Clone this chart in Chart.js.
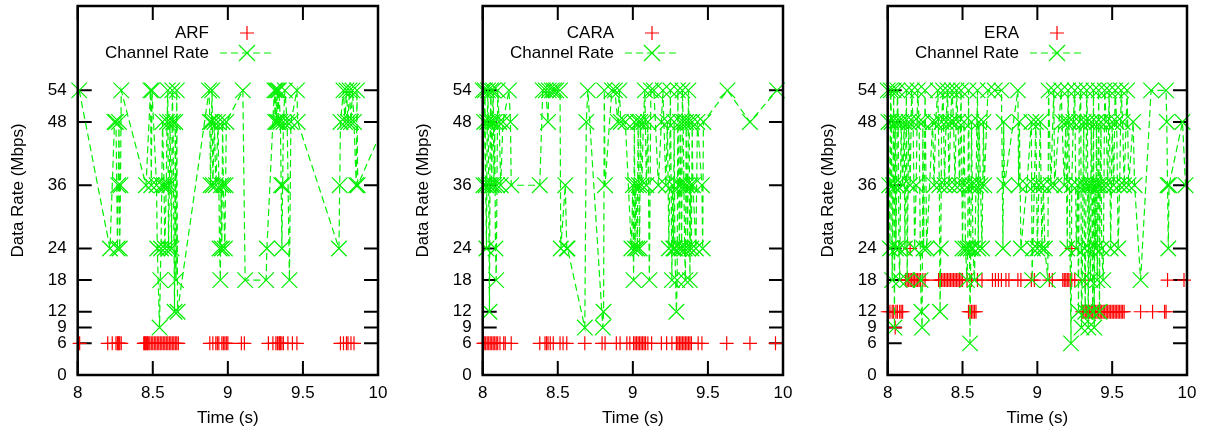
<!DOCTYPE html>
<html>
<head>
<meta charset="utf-8">
<script src="https://cdn.jsdelivr.net/npm/chart.js"></script>
<style>
  body { margin: 0; background: #fff; }
  canvas { position: absolute; top: 0; }
</style>
</head>
<body>
<canvas id="arf" width="405" height="432" style="left:0"></canvas>
<canvas id="cara" width="405" height="432" style="left:405px"></canvas>
<canvas id="era" width="404" height="432" style="left:810px"></canvas>
<script>
// axis ticks shared by the three panels
const xTicks = [8, 8.5, 9, 9.5, 10];
const yTicks = [0, 6, 9, 12, 18, 24, 36, 48, 54];

// [time (s), rate (Mbps)]
const arfRates = [
  [8.013, 6], [8.20, 6], [8.23, 6], [8.255, 6], [8.265, 6], [8.27, 6], [8.275, 6], [8.28, 6], [8.29, 6],
  [8.44, 6], [8.445, 6], [8.45, 6], [8.455, 6], [8.46, 6], [8.465, 6], [8.47, 6], [8.48, 6], [8.49, 6],
  [8.50, 6], [8.51, 6], [8.52, 6], [8.53, 6], [8.54, 6], [8.55, 6], [8.56, 6], [8.57, 6], [8.58, 6],
  [8.59, 6], [8.60, 6], [8.61, 6], [8.62, 6], [8.63, 6], [8.64, 6], [8.65, 6], [8.66, 6], [8.67, 6],
  [8.88, 6], [8.90, 6], [8.92, 6], [8.93, 6], [8.94, 6], [8.96, 6], [8.97, 6], [8.98, 6], [8.99, 6], [9.00, 6],
  [9.09, 6], [9.11, 6],
  [9.27, 6], [9.30, 6], [9.32, 6], [9.33, 6], [9.34, 6], [9.345, 6], [9.35, 6], [9.36, 6], [9.37, 6],
  [9.40, 6], [9.43, 6], [9.46, 6],
  [9.75, 6], [9.77, 6], [9.79, 6], [9.80, 6], [9.82, 6], [9.84, 6]
];
const arfChannel = [
  [8.01, 54], [8.215, 24], [8.245, 48], [8.255, 48], [8.265, 24], [8.27, 36], [8.275, 48], [8.28, 24],
  [8.285, 36], [8.29, 54],
  [8.455, 36], [8.485, 54], [8.49, 36], [8.495, 54], [8.525, 36], [8.53, 24], [8.545, 9], [8.55, 18],
  [8.555, 24], [8.56, 36], [8.565, 48], [8.575, 36], [8.58, 24], [8.59, 36], [8.595, 48], [8.60, 54],
  [8.605, 24], [8.61, 36], [8.615, 48], [8.625, 24], [8.63, 54], [8.635, 48], [8.645, 12], [8.65, 48],
  [8.655, 18], [8.66, 54], [8.665, 12],
  [8.875, 54], [8.88, 48], [8.885, 36], [8.89, 48], [8.895, 54], [8.90, 36], [8.91, 48], [8.92, 36],
  [8.935, 48], [8.945, 24], [8.95, 18], [8.955, 36], [8.96, 24], [8.965, 48], [8.97, 36], [8.98, 24],
  [8.985, 36], [8.99, 48],
  [9.10, 54], [9.115, 18], [9.255, 18], [9.26, 24], [9.31, 54], [9.315, 48], [9.32, 54], [9.325, 48],
  [9.33, 54], [9.335, 48], [9.34, 54], [9.35, 48], [9.355, 36], [9.36, 24], [9.365, 36], [9.37, 48],
  [9.38, 54], [9.395, 48], [9.41, 18], [9.42, 48], [9.46, 54], [9.465, 48],
  [9.74, 24], [9.745, 36], [9.75, 48], [9.77, 54], [9.78, 48], [9.79, 54], [9.80, 48], [9.81, 54],
  [9.82, 48], [9.83, 54], [9.84, 48], [9.855, 36], [9.86, 54], [9.865, 36], [10.05, 48]
];

const caraRates = [
  [8.005, 6], [8.01, 6], [8.02, 6], [8.03, 6], [8.04, 6], [8.05, 6], [8.06, 6], [8.07, 6], [8.08, 6],
  [8.09, 6], [8.10, 6], [8.115, 6], [8.14, 6], [8.15, 6], [8.19, 6],
  [8.38, 6], [8.415, 6], [8.425, 6], [8.435, 6], [8.45, 6], [8.47, 6], [8.515, 6], [8.535, 6], [8.56, 6],
  [8.68, 6], [8.795, 6], [8.815, 6],
  [8.89, 6], [8.915, 6], [8.96, 6], [8.98, 6], [9.005, 6], [9.015, 6], [9.025, 6], [9.035, 6], [9.045, 6],
  [9.055, 6], [9.065, 6], [9.075, 6], [9.085, 6], [9.10, 6], [9.125, 6],
  [9.19, 6], [9.225, 6], [9.26, 6], [9.29, 6], [9.30, 6], [9.31, 6], [9.32, 6], [9.33, 6], [9.34, 6],
  [9.35, 6], [9.36, 6], [9.37, 6], [9.38, 6], [9.39, 6], [9.435, 6], [9.46, 6],
  [9.625, 6], [9.78, 6], [9.95, 6]
];
const caraChannel = [
  [8.00, 54], [8.005, 36], [8.01, 48], [8.015, 54], [8.02, 36], [8.025, 24], [8.03, 48], [8.035, 54],
  [8.04, 36], [8.045, 12], [8.05, 48], [8.055, 54], [8.06, 36], [8.065, 48], [8.07, 54], [8.075, 36],
  [8.08, 48], [8.085, 24], [8.09, 18], [8.095, 36], [8.10, 54], [8.11, 48], [8.12, 36], [8.135, 48],
  [8.175, 54], [8.185, 48], [8.19, 36], [8.38, 36],
  [8.40, 54], [8.42, 54], [8.435, 48], [8.44, 54], [8.46, 54], [8.475, 54], [8.49, 54], [8.515, 54],
  [8.52, 24], [8.55, 36], [8.56, 24], [8.565, 24], [8.68, 9], [8.69, 48], [8.70, 54], [8.80, 9],
  [8.805, 12], [8.81, 54], [8.815, 36], [8.86, 54], [8.88, 54], [8.90, 48], [8.91, 54], [8.92, 48],
  [8.95, 48], [8.99, 24], [9.00, 36], [9.005, 18], [9.01, 48], [9.015, 24], [9.02, 36], [9.03, 24],
  [9.035, 48], [9.04, 36], [9.045, 24], [9.05, 48], [9.06, 36], [9.07, 48], [9.08, 54], [9.09, 36],
  [9.10, 48], [9.11, 18], [9.12, 54], [9.14, 54], [9.17, 36], [9.19, 48], [9.20, 54], [9.22, 36],
  [9.23, 48], [9.24, 24], [9.25, 54], [9.26, 18], [9.265, 36], [9.27, 24], [9.275, 48], [9.28, 24],
  [9.29, 12], [9.295, 18], [9.30, 54], [9.305, 36], [9.31, 24], [9.315, 48], [9.32, 36], [9.325, 24],
  [9.33, 54], [9.335, 48], [9.34, 36], [9.345, 24], [9.35, 18], [9.355, 48], [9.36, 36], [9.365, 24],
  [9.37, 54], [9.375, 48], [9.38, 18], [9.385, 36], [9.39, 24], [9.395, 48], [9.40, 36], [9.42, 24],
  [9.43, 48], [9.46, 36], [9.465, 24], [9.47, 48], [9.63, 54], [9.78, 48], [9.96, 54]
];

const eraRates = [
  [8.00, 12], [8.015, 12], [8.03, 12], [8.04, 12], [8.055, 12], [8.065, 12], [8.08, 12], [8.09, 12], [8.10, 12],
  [8.05, 9], [8.15, 24], [9.23, 24],
  [8.12, 18], [8.13, 18], [8.14, 18], [8.15, 18], [8.16, 18], [8.17, 18], [8.18, 18], [8.19, 18],
  [8.20, 18], [8.21, 18], [8.22, 18], [8.235, 18], [8.25, 18],
  [8.34, 18], [8.35, 18], [8.36, 18], [8.37, 18], [8.38, 18], [8.39, 18], [8.40, 18], [8.41, 18],
  [8.42, 18], [8.43, 18], [8.44, 18], [8.45, 18], [8.46, 18], [8.47, 18], [8.48, 18], [8.49, 18], [8.50, 18],
  [8.53, 18], [8.56, 18], [8.60, 18], [8.63, 18],
  [8.70, 18], [8.72, 18], [8.74, 18], [8.76, 18], [8.79, 18], [8.81, 18],
  [8.87, 18], [8.89, 18], [8.96, 18], [8.98, 18], [9.08, 18], [9.10, 18],
  [9.17, 18], [9.18, 18], [9.19, 18], [9.20, 18], [9.21, 18], [9.22, 18], [9.23, 18], [9.25, 18], [9.32, 18],
  [9.87, 18], [9.98, 18],
  [8.54, 12], [8.55, 12], [8.56, 12], [8.57, 12], [8.58, 12], [8.59, 12],
  [9.30, 12], [9.31, 12], [9.32, 12], [9.33, 12], [9.34, 12], [9.35, 12], [9.36, 12], [9.37, 12],
  [9.38, 12], [9.39, 12], [9.40, 12], [9.41, 12], [9.42, 12], [9.43, 12], [9.44, 12], [9.45, 12],
  [9.46, 12], [9.47, 12], [9.48, 12], [9.49, 12], [9.50, 12], [9.51, 12], [9.52, 12], [9.53, 12],
  [9.54, 12], [9.55, 12], [9.56, 12], [9.57, 12], [9.58, 12], [9.69, 12], [9.77, 12], [9.85, 12], [9.86, 12]
];
const eraChannel = [
  [8.00, 54], [8.005, 48], [8.01, 36], [8.015, 24], [8.02, 54], [8.025, 48], [8.03, 18], [8.035, 36],
  [8.04, 54], [8.045, 9], [8.05, 48], [8.055, 24], [8.06, 36], [8.065, 54], [8.07, 48], [8.075, 24],
  [8.08, 18], [8.09, 48], [8.10, 36], [8.11, 48], [8.115, 24], [8.125, 54], [8.13, 18], [8.14, 48],
  [8.15, 36], [8.16, 54], [8.17, 48], [8.18, 24], [8.19, 36], [8.20, 54], [8.21, 48], [8.22, 18],
  [8.225, 12], [8.23, 9], [8.235, 48], [8.24, 24], [8.25, 54], [8.26, 24],
  [8.30, 48], [8.31, 36], [8.32, 48], [8.335, 54], [8.345, 36], [8.35, 12], [8.355, 24], [8.36, 48],
  [8.37, 54], [8.38, 36], [8.39, 48], [8.40, 54], [8.41, 36], [8.42, 48], [8.43, 54], [8.44, 48],
  [8.45, 36], [8.46, 54], [8.47, 48], [8.48, 36], [8.49, 54], [8.50, 24], [8.51, 48], [8.515, 36],
  [8.52, 24], [8.53, 18], [8.535, 24], [8.54, 54], [8.545, 36], [8.55, 6], [8.555, 24], [8.56, 48],
  [8.565, 36], [8.57, 24], [8.58, 18], [8.59, 36], [8.60, 54], [8.605, 24], [8.61, 48], [8.62, 36],
  [8.63, 24], [8.64, 48], [8.645, 36], [8.67, 54], [8.715, 54],
  [8.76, 54], [8.77, 24], [8.775, 48], [8.78, 36], [8.87, 54], [8.875, 36], [8.88, 48], [8.89, 24],
  [8.93, 36], [8.96, 48], [8.965, 18], [8.97, 24], [8.98, 36], [8.99, 48], [9.00, 24], [9.01, 36],
  [9.02, 48], [9.03, 24], [9.04, 36], [9.05, 24],
  [9.07, 18], [9.075, 54], [9.09, 36], [9.11, 54], [9.115, 36], [9.16, 54], [9.165, 48], [9.18, 36],
  [9.19, 48], [9.20, 24], [9.205, 54], [9.21, 48], [9.225, 6], [9.23, 36], [9.24, 48], [9.25, 54],
  [9.26, 24], [9.27, 36], [9.275, 12], [9.28, 48], [9.29, 54], [9.295, 9], [9.30, 18], [9.305, 36],
  [9.31, 48], [9.315, 24], [9.32, 12], [9.325, 36], [9.33, 54], [9.335, 48], [9.34, 9], [9.345, 36],
  [9.35, 24], [9.355, 18], [9.36, 48], [9.365, 36], [9.37, 12], [9.375, 54], [9.38, 9], [9.385, 36],
  [9.39, 24], [9.395, 48], [9.40, 18], [9.405, 36], [9.41, 54], [9.415, 12], [9.42, 36], [9.425, 48],
  [9.43, 24], [9.44, 18], [9.445, 36], [9.45, 54], [9.46, 48], [9.47, 36], [9.48, 54], [9.49, 24],
  [9.50, 48], [9.51, 36], [9.52, 54], [9.53, 48], [9.54, 24], [9.55, 36], [9.56, 54], [9.57, 48],
  [9.58, 36], [9.60, 54], [9.61, 36], [9.64, 48], [9.65, 36],
  [9.69, 18], [9.76, 54], [9.86, 54], [9.865, 48], [9.87, 36], [9.875, 24], [9.88, 36], [9.97, 48], [9.99, 36]
];

const RED = "#ff0000";
const GREEN = "#00f000";
const FONT = "'Liberation Sans', Arial, sans-serif";
const TICK = 14;
const DASH = [7, 4];

const toXY = (pairs) => pairs.map(p => ({ x: p[0], y: p[1] }));

// gnuplot style frame: inward ticks on all four sides, border and key
const framePlugin = {
    id: "frame",
    beforeDatasetsDraw(chart) {
        const { ctx, chartArea: a, scales } = chart;
        ctx.save();
        ctx.strokeStyle = "#000";
        ctx.lineWidth = 2;
        ctx.beginPath();
        xTicks.forEach(v => {
            const px = scales.x.getPixelForValue(v);
            ctx.moveTo(px, a.bottom);
            ctx.lineTo(px, a.bottom - TICK);
            ctx.moveTo(px, a.top);
            ctx.lineTo(px, a.top + TICK);
        });
        yTicks.forEach(v => {
            const py = scales.y.getPixelForValue(v);
            ctx.moveTo(a.left, py);
            ctx.lineTo(a.left + TICK, py);
            ctx.moveTo(a.right, py);
            ctx.lineTo(a.right - TICK, py);
        });
        ctx.stroke();
        ctx.restore();
    },
    afterDatasetsDraw(chart, args, opts) {
        const { ctx, chartArea: a } = chart;
        ctx.save();
        ctx.strokeStyle = "#000";
        ctx.lineWidth = 2.5;
        ctx.strokeRect(a.left, a.top, a.right - a.left, a.bottom - a.top);

        // key
        ctx.font = "17px " + FONT;
        ctx.fillStyle = "#000";
        ctx.textAlign = "right";
        ctx.textBaseline = "middle";
        ctx.fillText(opts.label, 209, 33);
        ctx.fillText("Channel Rate", 209, 53);

        ctx.lineWidth = 1.2;
        ctx.strokeStyle = RED;
        ctx.beginPath();
        ctx.moveTo(240, 33);
        ctx.lineTo(254, 33);
        ctx.moveTo(247, 26);
        ctx.lineTo(247, 40);
        ctx.stroke();

        ctx.strokeStyle = GREEN;
        ctx.setLineDash(DASH);
        ctx.beginPath();
        ctx.moveTo(220, 53);
        ctx.lineTo(274, 53);
        ctx.stroke();
        ctx.setLineDash([]);
        ctx.beginPath();
        ctx.moveTo(239, 45);
        ctx.lineTo(255, 61);
        ctx.moveTo(255, 45);
        ctx.lineTo(239, 61);
        ctx.stroke();
        ctx.restore();
    }
};

const makePanel = (id, label, rates, channel, channelClip) => {
    return new Chart(document.getElementById(id), {
        type: "line",
        plugins: [framePlugin],
        data: {
            datasets: [
                {
                    label: "Channel Rate",
                    data: toXY(channel),
                    order: 0,
                    showLine: true,
                    borderColor: GREEN,
                    borderWidth: 1.2,
                    borderDash: DASH,
                    tension: 0,
                    pointStyle: "crossRot",
                    pointRadius: 11,
                    pointBorderWidth: 1.2,
                    pointBorderColor: GREEN,
                    clip: channelClip,
                },
                {
                    label: label,
                    data: toXY(rates),
                    order: 1,
                    showLine: false,
                    borderColor: RED,
                    pointStyle: "cross",
                    pointRadius: 7,
                    pointBorderWidth: 1.2,
                    pointBorderColor: RED,
                    clip: 10,
                },
            ],
        },
        options: {
            responsive: false,
            animation: false,
            layout: { autoPadding: false, padding: { top: 6, right: 27, left: 0, bottom: 0 } },
            plugins: {
                legend: { display: false },
                tooltip: { enabled: false },
                frame: { label: label },
            },
            scales: {
                x: {
                    type: "linear",
                    min: 8,
                    max: 10,
                    afterFit: (s) => {
                        s.height = 57;
                        s.paddingLeft = 0;
                        s.paddingRight = 0;
                    },
                    afterBuildTicks: (s) => { s.ticks = xTicks.map(v => ({ value: v })); },
                    grid: { display: false, drawTicks: false },
                    border: { display: false },
                    ticks: {
                        autoSkip: false,
                        maxRotation: 0,
                        padding: 8,
                        color: "#000",
                        font: { family: FONT, size: 17 },
                        callback: (v) => String(v),
                    },
                    title: {
                        display: true,
                        text: "Time (s)",
                        color: "#000",
                        font: { family: FONT, size: 17 },
                        padding: { top: 0, bottom: 3 },
                    },
                },
                y: {
                    type: "linear",
                    min: 0,
                    max: 70,
                    afterFit: (s) => {
                        s.width = 77.7;
                        s.paddingTop = 0;
                        s.paddingBottom = 0;
                    },
                    afterBuildTicks: (s) => { s.ticks = yTicks.map(v => ({ value: v })); },
                    grid: { display: false, drawTicks: false },
                    border: { display: false },
                    ticks: {
                        autoSkip: false,
                        padding: 11,
                        color: "#000",
                        font: { family: FONT, size: 17 },
                        callback: (v) => String(v),
                    },
                    title: {
                        display: true,
                        text: "Data Rate (Mbps)",
                        color: "#000",
                        font: { family: FONT, size: 17 },
                        padding: { top: 8, bottom: 0 },
                    },
                },
            },
        },
    });
};

makePanel("arf", "ARF", arfRates, arfChannel, { left: 10, top: 10, right: 0, bottom: 10 });
makePanel("cara", "CARA", caraRates, caraChannel, 10);
makePanel("era", "ERA", eraRates, eraChannel, 10);
</script>
</body>
</html>
